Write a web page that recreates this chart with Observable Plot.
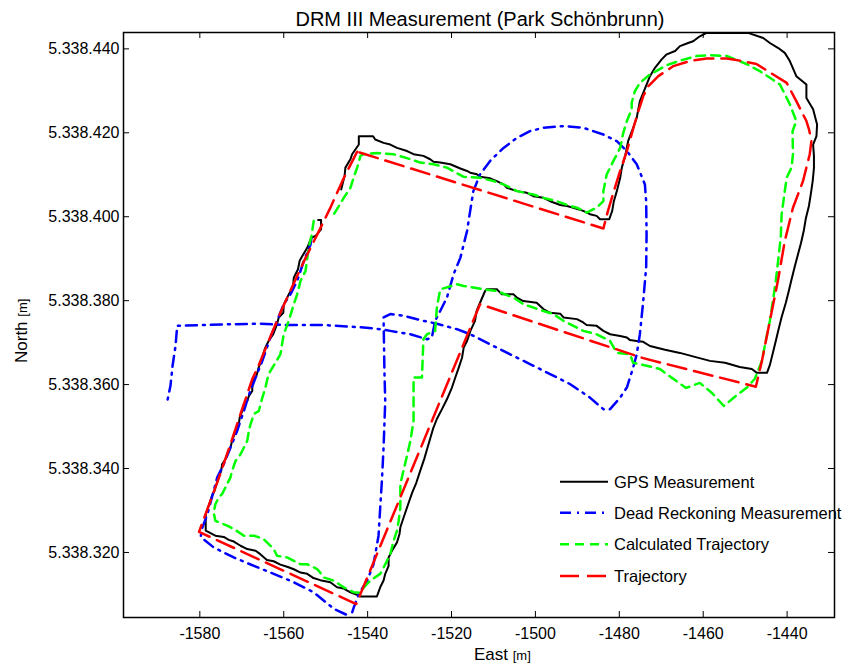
<!DOCTYPE html>
<html><head><meta charset="utf-8">
<script src="https://cdn.jsdelivr.net/npm/d3@7"></script>
<script src="https://cdn.jsdelivr.net/npm/@observablehq/plot@0.6"></script>
<style>body{margin:0;background:#fff;} #chart{width:852px;height:664px;}</style>
</head><body><div id="chart"></div>
<script>
const titleText = "DRM III Measurement (Park Schönbrunn)";
const xTicks = [-1580, -1560, -1540, -1520, -1500, -1480, -1460, -1440];
const yTicks = [5338320, 5338340, 5338360, 5338380, 5338400, 5338420, 5338440];
const seriesNames = ["GPS Measurement", "Dead Reckoning Measurement", "Calculated Trajectory", "Trajectory"];

const gpsMeasurement = [[-1551.8,5338399.2],[-1551.1,5338399.2],[-1551.1,5338397.0],[-1552.45,5338395.4],[-1553.4,5338395.0],[-1554.4,5338392.6],[-1555.6,5338390.6],[-1556.2,5338389.5],[-1556.6,5338387.5],[-1557.6,5338385.5],[-1557.8,5338383.1],[-1558.8,5338381.5],[-1560.0,5338379.1],[-1560.1,5338377.1],[-1561.2,5338376.0],[-1561.6,5338374.4],[-1562.5,5338372.0],[-1563.6,5338370.4],[-1564.4,5338368.8],[-1564.9,5338367.2],[-1565.4,5338365.6],[-1566.0,5338364.0],[-1566.5,5338362.1],[-1567.5,5338360.9],[-1567.5,5338358.5],[-1568.3,5338357.3],[-1568.7,5338356.1],[-1569.5,5338355.3],[-1569.9,5338353.7],[-1570.5,5338352.2],[-1570.7,5338350.6],[-1571.5,5338349.0],[-1572.3,5338346.6],[-1572.7,5338345.0],[-1573.3,5338343.8],[-1573.9,5338342.2],[-1574.7,5338341.0],[-1574.9,5338339.5],[-1575.5,5338337.9],[-1576.0,5338336.3],[-1576.5,5338334.7],[-1577.1,5338333.5],[-1577.9,5338331.1],[-1578.6,5338329.1],[-1578.6,5338325.2],[-1576.3,5338324.0],[-1574.3,5338323.7],[-1573.1,5338323.0],[-1571.9,5338322.6],[-1570.3,5338321.6],[-1568.7,5338320.8],[-1566.7,5338320.4],[-1565.6,5338319.6],[-1564.0,5338318.2],[-1562.4,5338317.9],[-1560.8,5338317.1],[-1559.2,5338316.6],[-1557.6,5338316.0],[-1556.0,5338315.2],[-1554.4,5338314.9],[-1552.9,5338313.9],[-1551.3,5338313.4],[-1548.9,5338312.9],[-1547.3,5338311.7],[-1545.7,5338311.4],[-1544.1,5338310.5],[-1542.5,5338309.9],[-1541.7,5338309.5],[-1537.8,5338309.5],[-1537.0,5338311.7],[-1536.2,5338313.3],[-1535.8,5338314.9],[-1535.0,5338316.8],[-1535.0,5338318.8],[-1534.2,5338320.4],[-1533.0,5338322.4],[-1532.4,5338324.4],[-1532.2,5338326.0],[-1531.3,5338328.7],[-1530.3,5338331.6],[-1529.4,5338334.2],[-1528.4,5338336.6],[-1527.45,5338339.5],[-1526.5,5338342.3],[-1525.8,5338344.7],[-1525.1,5338347.1],[-1524.4,5338349.5],[-1523.5,5338351.8],[-1522.3,5338354.1],[-1521.1,5338356.5],[-1519.9,5338359.3],[-1519.1,5338361.7],[-1518.3,5338364.0],[-1517.5,5338366.4],[-1517.1,5338368.8],[-1516.3,5338370.4],[-1515.5,5338372.8],[-1514.4,5338375.2],[-1514.0,5338377.6],[-1513.2,5338379.5],[-1512.0,5338382.3],[-1511.6,5338382.7],[-1509.2,5338382.7],[-1508.0,5338381.5],[-1505.2,5338381.5],[-1504.4,5338380.7],[-1502.9,5338379.9],[-1499.7,5338379.5],[-1498.1,5338378.0],[-1496.5,5338377.1],[-1494.1,5338376.9],[-1493.3,5338376.0],[-1490.1,5338375.6],[-1488.6,5338374.8],[-1487.8,5338374.2],[-1485.4,5338374.0],[-1483.8,5338372.8],[-1482.2,5338372.0],[-1479.8,5338371.6],[-1478.2,5338371.2],[-1477.45,5338370.6],[-1475.9,5338370.4],[-1474.3,5338370.2],[-1472.7,5338369.2],[-1469.1,5338368.3],[-1465.55,5338367.55],[-1462.0,5338366.6],[-1458.4,5338365.65],[-1454.8,5338365.2],[-1451.3,5338364.2],[-1448.4,5338363.7],[-1447.2,5338362.8],[-1444.8,5338362.8],[-1444.1,5338364.7],[-1443.4,5338367.55],[-1442.7,5338370.4],[-1442.0,5338373.3],[-1441.3,5338376.1],[-1440.3,5338379.5],[-1439.6,5338382.3],[-1438.9,5338385.2],[-1438.2,5338388.0],[-1437.45,5338390.9],[-1436.7,5338393.7],[-1436.0,5338396.8],[-1435.55,5338399.5],[-1434.8,5338402.55],[-1434.35,5338405.4],[-1433.9,5338408.5],[-1433.6,5338411.6],[-1433.6,5338414.5],[-1433.8,5338417.2],[-1433.0,5338419.2],[-1432.85,5338422.0],[-1433.8,5338425.6],[-1435.4,5338428.3],[-1435.4,5338431.5],[-1437.8,5338433.5],[-1439.35,5338437.1],[-1440.55,5338439.05],[-1442.1,5338440.2],[-1444.1,5338441.4],[-1445.7,5338442.6],[-1449.3,5338443.8],[-1459.2,5338443.8],[-1460.8,5338443.0],[-1462.4,5338441.8],[-1463.6,5338441.4],[-1465.55,5338440.65],[-1466.7,5338439.5],[-1468.7,5338438.7],[-1469.9,5338437.5],[-1471.5,5338435.5],[-1472.7,5338433.5],[-1473.5,5338431.5],[-1474.3,5338429.5],[-1475.1,5338427.55],[-1475.85,5338423.6],[-1476.7,5338421.2],[-1477.9,5338418.0],[-1478.6,5338414.5],[-1479.4,5338411.7],[-1479.8,5338409.2],[-1480.6,5338406.1],[-1481.3,5338403.7],[-1481.7,5338401.4],[-1482.4,5338399.4],[-1484.6,5338399.4],[-1485.4,5338400.2],[-1487.0,5338400.6],[-1488.6,5338401.4],[-1490.95,5338402.15],[-1492.5,5338402.55],[-1494.1,5338402.8],[-1496.5,5338403.7],[-1498.1,5338404.5],[-1500.5,5338404.9],[-1502.05,5338405.7],[-1504.4,5338406.1],[-1506.8,5338406.9],[-1507.6,5338407.7],[-1509.2,5338408.5],[-1510.8,5338409.15],[-1513.2,5338409.5],[-1513.95,5338410.1],[-1515.55,5338410.5],[-1516.3,5338410.9],[-1517.9,5338411.5],[-1520.3,5338412.5],[-1522.7,5338412.9],[-1524.3,5338413.1],[-1525.1,5338413.7],[-1526.7,5338414.5],[-1529.05,5338414.9],[-1530.6,5338415.65],[-1533.0,5338416.4],[-1534.6,5338417.2],[-1536.2,5338417.6],[-1538.2,5338418.4],[-1538.7,5338419.2],[-1542.1,5338419.2],[-1542.1,5338417.2],[-1543.7,5338414.9],[-1544.1,5338413.7],[-1545.3,5338411.7],[-1545.5,5338409.7],[-1546.3,5338406.5]];

const deadReckoning = [[-1553.4,5338395.0],[-1553.6,5338393.4],[-1555.2,5338389.5],[-1556.8,5338384.7],[-1558.4,5338381.5],[-1560.0,5338379.15],[-1561.6,5338375.2],[-1563.2,5338371.2],[-1565.1,5338365.65],[-1566.7,5338361.7],[-1568.4,5338357.3],[-1569.5,5338353.7],[-1570.3,5338351.4],[-1571.1,5338349.0],[-1572.7,5338345.0],[-1574.3,5338341.05],[-1575.85,5338337.9],[-1576.7,5338334.7],[-1578.2,5338329.15],[-1579.4,5338325.95],[-1579.8,5338323.7],[-1576.7,5338321.2],[-1571.9,5338318.8],[-1567.1,5338316.8],[-1562.4,5338314.9],[-1557.6,5338312.9],[-1552.85,5338310.5],[-1548.1,5338306.6],[-1544.5,5338304.9],[-1544.2,5338304.1],[-1543.3,5338306.9],[-1542.1,5338310.1],[-1540.1,5338313.3],[-1538.6,5338317.2],[-1537.4,5338324.0],[-1537.0,5338330.7],[-1536.6,5338337.1],[-1536.2,5338345.0],[-1535.8,5338356.1],[-1536.0,5338363.3],[-1536.2,5338376.0],[-1534.6,5338376.8],[-1531.4,5338376.4],[-1526.7,5338375.2],[-1523.5,5338374.5],[-1518.7,5338373.2],[-1515.55,5338372.0],[-1510.8,5338369.6],[-1506.0,5338367.2],[-1501.3,5338364.9],[-1496.5,5338362.5],[-1491.7,5338360.1],[-1487.0,5338356.9],[-1483.8,5338354.15],[-1482.2,5338354.15],[-1479.8,5338356.9],[-1478.2,5338359.3],[-1476.7,5338364.05],[-1475.85,5338367.2],[-1475.1,5338372.0],[-1474.3,5338379.9],[-1473.6,5338387.9],[-1473.5,5338395.8],[-1473.6,5338403.7],[-1473.9,5338407.7],[-1475.85,5338412.5],[-1478.2,5338415.65],[-1480.6,5338418.0],[-1483.8,5338419.6],[-1488.6,5338421.2],[-1493.3,5338421.6],[-1498.1,5338421.2],[-1501.3,5338420.4],[-1504.4,5338418.8],[-1507.6,5338416.4],[-1510.8,5338413.3],[-1513.2,5338410.1],[-1514.8,5338406.1],[-1515.55,5338401.4],[-1516.3,5338396.6],[-1517.9,5338390.2],[-1519.5,5338386.3],[-1521.1,5338380.7],[-1522.7,5338377.55],[-1523.9,5338375.2],[-1524.7,5338371.2],[-1525.85,5338370.8],[-1529.8,5338372.0],[-1534.6,5338372.8],[-1537.0,5338373.2],[-1540.95,5338373.6],[-1550.5,5338374.2],[-1560.0,5338374.2],[-1565.55,5338374.5],[-1571.9,5338374.4],[-1585.4,5338374.0],[-1585.8,5338369.2],[-1586.5,5338364.5],[-1587.0,5338359.7],[-1587.9,5338355.4]];

const calculatedTrajectory = [[-1552.85,5338399.0],[-1553.4,5338395.4],[-1554.05,5338392.6],[-1554.8,5338387.1],[-1556.0,5338384.7],[-1556.8,5338381.5],[-1557.6,5338379.15],[-1558.8,5338375.2],[-1560.0,5338372.0],[-1560.4,5338369.6],[-1560.8,5338367.2],[-1562.4,5338364.5],[-1563.6,5338362.5],[-1564.0,5338360.9],[-1564.35,5338359.3],[-1565.1,5338356.9],[-1565.95,5338353.7],[-1567.1,5338353.0],[-1567.9,5338350.6],[-1568.3,5338349.0],[-1568.7,5338346.6],[-1569.5,5338345.0],[-1570.3,5338343.4],[-1571.5,5338341.8],[-1572.3,5338339.5],[-1572.7,5338337.9],[-1573.5,5338336.3],[-1574.7,5338333.9],[-1575.5,5338333.1],[-1576.3,5338331.5],[-1576.7,5338329.5],[-1576.3,5338327.55],[-1573.5,5338326.4],[-1571.9,5338325.6],[-1569.5,5338324.0],[-1567.1,5338324.0],[-1564.8,5338323.2],[-1563.2,5338321.6],[-1562.4,5338320.8],[-1561.6,5338319.2],[-1559.2,5338318.8],[-1556.0,5338317.2],[-1554.4,5338317.2],[-1552.05,5338316.05],[-1551.3,5338315.2],[-1550.5,5338314.05],[-1548.1,5338313.3],[-1545.7,5338311.7],[-1543.3,5338310.5],[-1541.7,5338310.4],[-1540.95,5338311.6],[-1539.35,5338313.3],[-1537.0,5338314.9],[-1536.2,5338316.4],[-1535.4,5338318.0],[-1534.6,5338319.6],[-1533.8,5338322.8],[-1533.0,5338325.2],[-1532.6,5338327.55],[-1532.2,5338330.7],[-1532.2,5338336.3],[-1531.0,5338341.4],[-1529.8,5338346.6],[-1529.05,5338351.4],[-1529.05,5338361.7],[-1527.05,5338361.7],[-1526.7,5338370.8],[-1525.85,5338372.0],[-1523.9,5338372.8],[-1523.5,5338378.3],[-1522.7,5338382.7],[-1518.7,5338383.9],[-1517.1,5338383.5],[-1512.4,5338382.7],[-1509.2,5338382.3],[-1505.2,5338380.7],[-1502.85,5338379.15],[-1498.1,5338377.55],[-1495.7,5338376.8],[-1493.3,5338375.2],[-1490.95,5338374.0],[-1488.6,5338372.8],[-1485.4,5338372.0],[-1482.2,5338370.4],[-1480.6,5338367.6],[-1477.45,5338367.2],[-1476.7,5338365.2],[-1473.5,5338364.5],[-1470.3,5338363.7],[-1467.45,5338361.6],[-1464.1,5338359.2],[-1460.8,5338360.4],[-1457.9,5338358.0],[-1455.1,5338354.9],[-1452.45,5338357.1],[-1449.35,5338359.5],[-1447.7,5338361.4],[-1446.0,5338365.65],[-1445.1,5338370.4],[-1444.1,5338375.2],[-1443.4,5338379.9],[-1442.7,5338384.7],[-1442.0,5338390.65],[-1441.5,5338395.4],[-1441.3,5338400.6],[-1440.55,5338406.1],[-1440.1,5338409.3],[-1438.95,5338411.7],[-1438.6,5338414.9],[-1438.7,5338420.4],[-1437.8,5338422.8],[-1439.35,5338426.8],[-1441.7,5338431.5],[-1444.1,5338433.1],[-1446.5,5338434.7],[-1449.7,5338436.4],[-1454.4,5338438.3],[-1458.4,5338438.5],[-1461.6,5338438.3],[-1465.55,5338437.2],[-1468.7,5338436.1],[-1472.7,5338433.9],[-1475.1,5338431.9],[-1476.3,5338429.9],[-1477.05,5338427.15],[-1477.05,5338425.6],[-1478.2,5338422.8],[-1479.05,5338420.0],[-1479.8,5338416.4],[-1481.4,5338413.3],[-1483.0,5338410.1],[-1483.8,5338406.1],[-1483.8,5338403.7],[-1485.4,5338402.15],[-1487.8,5338401.0],[-1490.1,5338402.15],[-1491.7,5338402.55],[-1494.9,5338403.7],[-1498.1,5338404.5],[-1500.5,5338405.3],[-1504.4,5338406.1],[-1507.6,5338407.7],[-1510.0,5338408.5],[-1513.2,5338409.3],[-1517.1,5338409.5],[-1521.1,5338411.7],[-1524.3,5338412.5],[-1527.45,5338412.9],[-1529.8,5338413.7],[-1533.8,5338414.9],[-1537.8,5338415.2],[-1540.95,5338414.9],[-1541.7,5338414.5],[-1542.5,5338411.7],[-1543.6,5338408.5],[-1544.1,5338406.9],[-1545.7,5338404.5],[-1547.3,5338401.8],[-1548.2,5338400.4]];

const trajectory = [[-1542.5,5338415.5],[-1545.8,5338409.0],[-1548.9,5338402.1],[-1551.7,5338396.4],[-1554.8,5338390.2],[-1557.9,5338383.5],[-1560.8,5338377.1],[-1563.6,5338370.4],[-1566.0,5338364.5],[-1567.5,5338361.3],[-1570.3,5338353.0],[-1572.9,5338345.2],[-1575.55,5338337.55],[-1577.9,5338331.1],[-1580.2,5338324.9],[-1542.7,5338307.7],[-1513.2,5338379.15],[-1474.3,5338366.3],[-1447.45,5338359.5],[-1446.0,5338365.65],[-1444.1,5338375.2],[-1442.2,5338384.7],[-1440.55,5338394.2],[-1438.6,5338402.15],[-1436.2,5338408.5],[-1434.6,5338414.9],[-1434.2,5338418.0],[-1434.8,5338420.9],[-1435.4,5338422.8],[-1437.8,5338427.55],[-1440.1,5338431.9],[-1443.3,5338433.9],[-1447.3,5338436.4],[-1451.3,5338437.2],[-1454.4,5338437.7],[-1459.2,5338437.7],[-1463.2,5338437.1],[-1467.1,5338435.9],[-1470.7,5338433.5],[-1473.1,5338431.1],[-1474.3,5338428.7],[-1475.55,5338424.9],[-1476.7,5338420.9],[-1478.2,5338415.65],[-1479.8,5338410.9],[-1481.3,5338406.1],[-1482.7,5338401.4],[-1483.8,5338397.2],[-1542.5,5338415.5]];

const W = 852, H = 664, mL = 123, mR = 18, mT = 32, mB = 47;
const fw = W - mL - mR, fh = H - mT - mB;
const font = "'Liberation Sans', Arial, Helvetica, sans-serif";
const deLocale = d3.formatLocale({decimal: ",", thousands: ".", grouping: [3], currency: ["", ""]});
const fmtNorth = deLocale.format(",d");
const fmtEast = d => String(d);

const styles = [
  {data: gpsMeasurement, stroke: "#000000", strokeWidth: 2, dash: null},
  {data: deadReckoning, stroke: "#0000ff", strokeWidth: 2.5, dash: "11,6,2,6"},
  {data: calculatedTrajectory, stroke: "#00ff00", strokeWidth: 2.5, dash: "9,6"},
  {data: trajectory, stroke: "#ff0000", strokeWidth: 2.5, dash: "19,8"}
];

const lineMarks = styles.map(s => Plot.line(s.data, {
  x: d => d[0], y: d => d[1], stroke: s.stroke, strokeWidth: s.strokeWidth,
  strokeDasharray: s.dash, strokeLinejoin: "round", clip: true
}));

const plot = Plot.plot({
  width: W, height: H,
  marginLeft: mL, marginRight: mR, marginTop: mT, marginBottom: mB,
  style: {fontFamily: font, fontSize: "16px", background: "#fff", color: "#000", overflow: "visible"},
  x: {domain: [-1598.2, -1428.7], ticks: xTicks, tickSize: 0, tickPadding: 10, tickFormat: fmtEast, label: null},
  y: {domain: [5338304.5, 5338443.9], ticks: yTicks, tickSize: 0, tickPadding: 4, tickFormat: fmtNorth, label: null},
  marks: [
    ...lineMarks,
    Plot.ruleX(xTicks, {insetTop: fh - 6, stroke: "#000", strokeWidth: 1}),
    Plot.ruleX(xTicks, {insetBottom: fh - 6, stroke: "#000", strokeWidth: 1}),
    Plot.ruleY(yTicks, {insetRight: fw - 6, stroke: "#000", strokeWidth: 1}),
    Plot.ruleY(yTicks, {insetLeft: fw - 6, stroke: "#000", strokeWidth: 1}),
    Plot.frame({stroke: "#000", strokeWidth: 1.5})
  ]
});

const svg = d3.select(plot);
svg.append("text").attr("x", 480).attr("y", 26).attr("text-anchor", "middle")
  .attr("font-family", font).attr("font-size", 20).attr("fill", "#000").text(titleText);

const east = svg.append("text").attr("x", 474).attr("y", 660).attr("text-anchor", "start")
  .attr("font-family", font).attr("font-size", 17).attr("fill", "#000");
east.append("tspan").text("East ");
east.append("tspan").attr("font-size", 13).text("[m]");

const north = svg.append("text").attr("transform", "translate(26.5,363) rotate(-90)").attr("text-anchor", "start")
  .attr("font-family", font).attr("font-size", 17).attr("fill", "#000");
north.append("tspan").text("North ");
north.append("tspan").attr("font-size", 13).text("[m]");

const legendY = [481.7, 512.7, 544.3, 576];
const lg = svg.append("g");
styles.forEach((s, i) => {
  lg.append("line").attr("x1", 560).attr("x2", 608).attr("y1", legendY[i]).attr("y2", legendY[i])
    .attr("stroke", s.stroke).attr("stroke-width", s.strokeWidth)
    .attr("stroke-dasharray", s.dash);
  lg.append("text").attr("x", 614).attr("y", legendY[i] + 5.8).attr("text-anchor", "start")
    .attr("font-family", font).attr("font-size", 16.5).attr("fill", "#000").text(seriesNames[i]);
});

document.getElementById("chart").appendChild(plot);
</script>
</body></html>
